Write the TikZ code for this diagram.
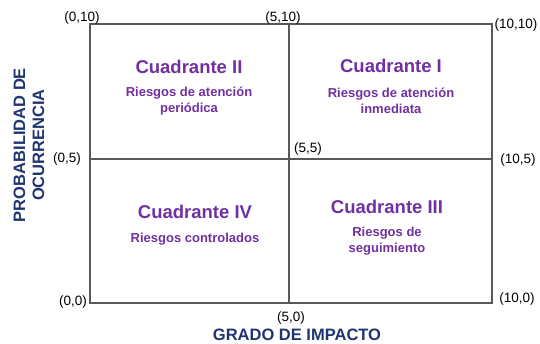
\documentclass[tikz,border=0pt]{standalone}
\usepackage{fontspec}
\setmainfont{Liberation Sans}
\definecolor{quadpurple}{HTML}{7030A0}
\definecolor{axisnavy}{HTML}{1F3470}
\definecolor{gridgray}{HTML}{595959}
\begin{document}
\begin{tikzpicture}[x=1pt,y=-1pt,
  coordlbl/.style={font=\fontsize{13.5}{15}\selectfont, text=black, inner sep=0pt},
  quadtitle/.style={font=\fontsize{18.5}{21}\bfseries\selectfont, text=quadpurple, inner sep=0pt},
  quadsub/.style={font=\fontsize{13}{16}\bfseries\selectfont, text=quadpurple, align=center, inner sep=0pt},
  axislbl/.style={font=\fontsize{16.5}{19}\bfseries\selectfont, text=axisnavy, align=center, inner sep=0pt},
  gridline/.style={draw=gridgray, line width=1.1pt}]
\useasboundingbox (0,0) rectangle (540,343);
% grid coordinates
\coordinate (p00) at (90,303);
\coordinate (p50) at (289,303);
\coordinate (p100) at (492,303);
\coordinate (p05) at (90,159);
\coordinate (p55) at (289,159);
\coordinate (p105) at (492,159);
\coordinate (p010) at (90,24);
\coordinate (p510) at (289,24);
\coordinate (p1010) at (492,24);
\draw[gridline] (p010) rectangle (p100);
\draw[gridline] (p510) -- (p50);
\draw[gridline] (p05) -- (p105);
% coordinate labels
\node[coordlbl] (l010) at (82,18) {(0,10)};
\node[coordlbl] (l510) at (283,18) {(5,10)};
\node[coordlbl] (l1010) at (516,25) {(10,10)};
\node[coordlbl] (l05) at (67,159) {(0,5)};
\node[coordlbl] (l55) at (308,149) {(5,5)};
\node[coordlbl] (l105) at (518,160) {(10,5)};
\node[coordlbl] (l00) at (73,302) {(0,0)};
\node[coordlbl] (l50) at (291,318) {(5,0)};
\node[coordlbl] (l100) at (517,299) {(10,0)};
% quadrants
\node[quadtitle] (q2) at (189,67) {Cuadrante II};
\node[quadsub] (q2s) at (189,101) {Riesgos de atención\\periódica};
\node[quadtitle] (q1) at (391,66) {Cuadrante I};
\node[quadsub] (q1s) at (391,101) {Riesgos de atención\\inmediata};
\node[quadtitle] (q4) at (195,212) {Cuadrante IV};
\node[quadsub] (q4s) at (195,239) {Riesgos controlados};
\node[quadtitle] (q3) at (387,207) {Cuadrante III};
\node[quadsub] (q3s) at (387,241) {Riesgos de\\seguimiento};
% axis labels
\node[axislbl] (xaxis) at (297,335) {GRADO DE IMPACTO};
\node[axislbl, rotate=90] (yaxis) at (29,145) {PROBABILIDAD DE\\OCURRENCIA};
\end{tikzpicture}
\end{document}
